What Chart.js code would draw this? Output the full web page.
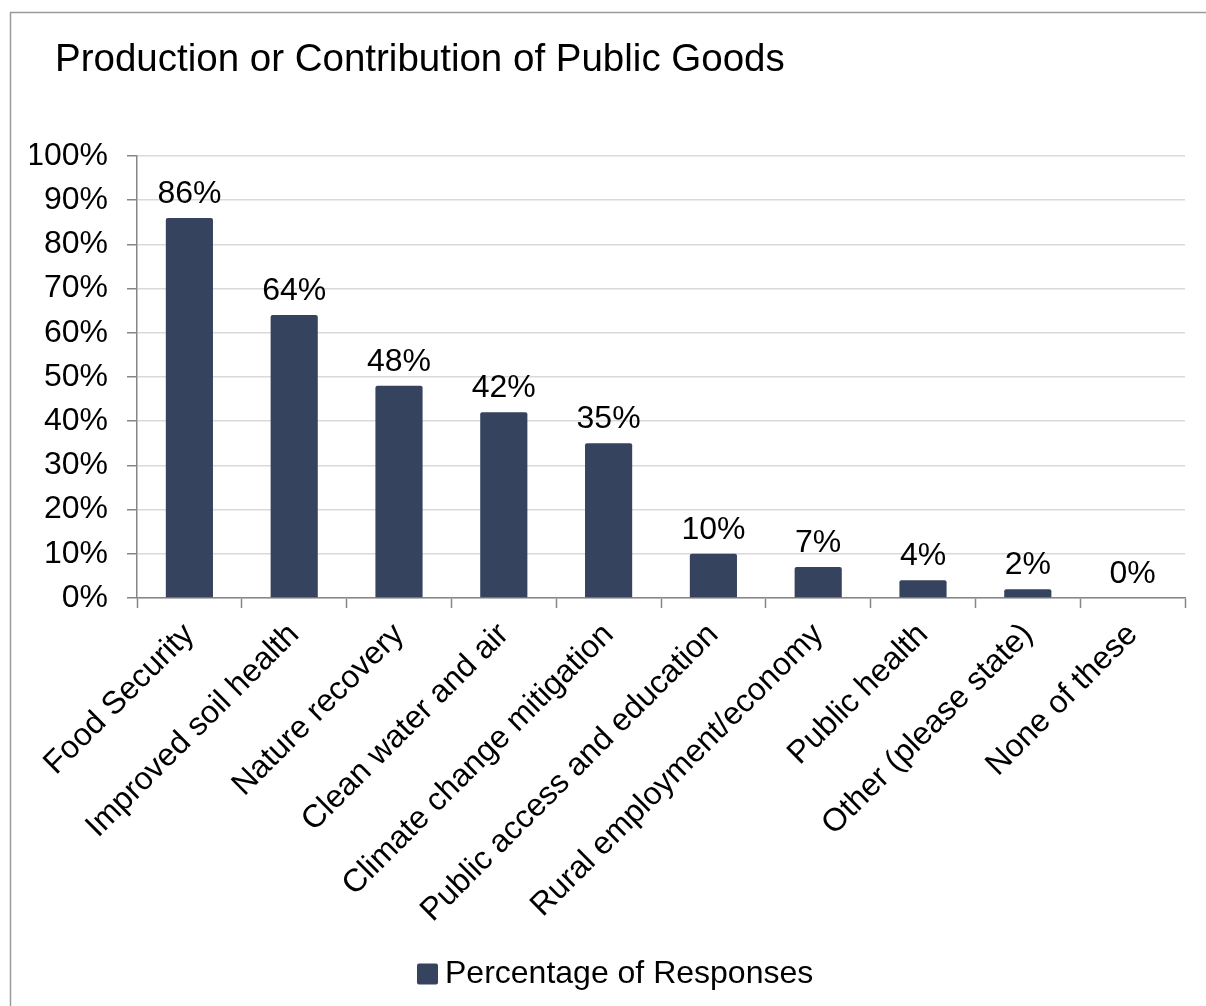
<!DOCTYPE html>
<html>
<head>
<meta charset="utf-8">
<script src="https://cdn.jsdelivr.net/npm/chart.js@4/dist/chart.umd.min.js"></script>
<style>
  html, body { margin: 0; padding: 0; background: #ffffff; }
  #wrap { position: relative; width: 1206px; height: 1006px; }
</style>
</head>
<body>
<div id="wrap"><canvas id="chart" width="1206" height="1006"></canvas></div>
<script>
// Survey categories and share of responses (%)
const categories = [
  'Food Security',
  'Improved soil health',
  'Nature recovery',
  'Clean water and air',
  'Climate change mitigation',
  'Public access and education',
  'Rural employment/economy',
  'Public health',
  'Other (please state)',
  'None of these'
];
const responsePct = [86, 64, 48, 42, 35, 10, 7, 4, 2, 0];
const seriesName = 'Percentage of Responses';
const chartTitle = 'Production or Contribution of Public Goods';

const FONT = '"Liberation Sans", Arial, Helvetica, sans-serif';
const BAR = '#35435e';
const AXIS = '#868686';
const GRID = '#d9d9d9';

Chart.defaults.font.family = FONT;
Chart.defaults.color = '#000000';

// Outer frame, title and the single-entry legend
const framePlugin = {
  id: 'frame',
  beforeDraw(chart) {
    const ctx = chart.ctx;
    ctx.save();
    ctx.fillStyle = '#ffffff';
    ctx.fillRect(0, 0, chart.width, chart.height);
    ctx.strokeStyle = '#9a9a9a';
    ctx.lineWidth = 1.5;
    ctx.beginPath();
    ctx.moveTo(10.5, chart.height + 5);
    ctx.lineTo(10.5, 12.5);
    ctx.lineTo(chart.width + 5, 12.5);
    ctx.stroke();
    ctx.restore();
  },
  afterDraw(chart) {
    const ctx = chart.ctx;
    ctx.save();
    // title
    ctx.font = '38.5px ' + FONT;
    ctx.fillStyle = '#000000';
    ctx.textAlign = 'left';
    ctx.textBaseline = 'alphabetic';
    ctx.fillText(chartTitle, 55, 71);

    // legend
    const ds = chart.data.datasets[0];
    ctx.font = '32px ' + FONT;
    const box = 21, gap = 7;
    const tw = ctx.measureText(ds.label).width;
    const total = box + gap + tw;
    const cx = 615.5;
    const x0 = Math.round(cx - total / 2);
    const cy = 974;
    ctx.fillStyle = ds.backgroundColor;
    ctx.beginPath();
    ctx.roundRect(x0, cy - box / 2, box, box, 2);
    ctx.fill();
    ctx.fillStyle = '#000000';
    ctx.textBaseline = 'middle';
    ctx.fillText(ds.label, x0 + box + gap, cy);
    ctx.restore();
  }
};

// Value labels above each bar
const valueLabels = {
  id: 'valueLabels',
  afterDatasetsDraw(chart) {
    const ctx = chart.ctx;
    const meta = chart.getDatasetMeta(0);
    const data = chart.data.datasets[0].data;
    ctx.save();
    ctx.font = '32px ' + FONT;
    ctx.fillStyle = '#000000';
    ctx.textAlign = 'center';
    ctx.textBaseline = 'alphabetic';
    meta.data.forEach((bar, i) => {
      ctx.fillText(data[i] + '%', bar.x, bar.y - 15);
    });
    ctx.restore();
  }
};

new Chart(document.getElementById('chart'), {
  type: 'bar',
  data: {
    labels: categories,
    datasets: [{
      label: seriesName,
      data: responsePct,
      backgroundColor: BAR,
      borderColor: BAR,
      borderWidth: 0,
      borderRadius: 2,
      borderSkipped: 'bottom',
      barPercentage: 0.45,
      categoryPercentage: 1.0
    }]
  },
  options: {
    responsive: false,
    animation: false,
    devicePixelRatio: 1,
    layout: { padding: { left: 30, right: 21, top: 156, bottom: 63 } },
    scales: {
      x: {
        grid: {
          offset: true,
          drawOnChartArea: false,
          drawTicks: true,
          tickLength: 10,
          tickColor: AXIS,
          tickWidth: 1.5
        },
        border: { display: true, color: AXIS, width: 1.5 },
        ticks: {
          font: { size: 32 },
          color: '#000000',
          minRotation: 45,
          maxRotation: 45,
          autoSkip: false,
          padding: 8
        },
        afterFit(scale) { scale.height = 345; }
      },
      y: {
        min: 0,
        max: 100,
        grid: {
          color: GRID,
          lineWidth: 1.5,
          tickLength: 10,
          tickColor: AXIS,
          tickWidth: 1.5
        },
        border: { display: true, color: AXIS, width: 1.5 },
        ticks: {
          stepSize: 10,
          font: { size: 32 },
          color: '#000000',
          padding: 19,
          callback: v => v + '%'
        },
        afterFit(scale) { scale.width = 107; }
      }
    },
    plugins: {
      title: { display: false },
      tooltip: { enabled: false },
      legend: { display: false }
    }
  },
  plugins: [framePlugin, valueLabels]
});
</script>
</body>
</html>
